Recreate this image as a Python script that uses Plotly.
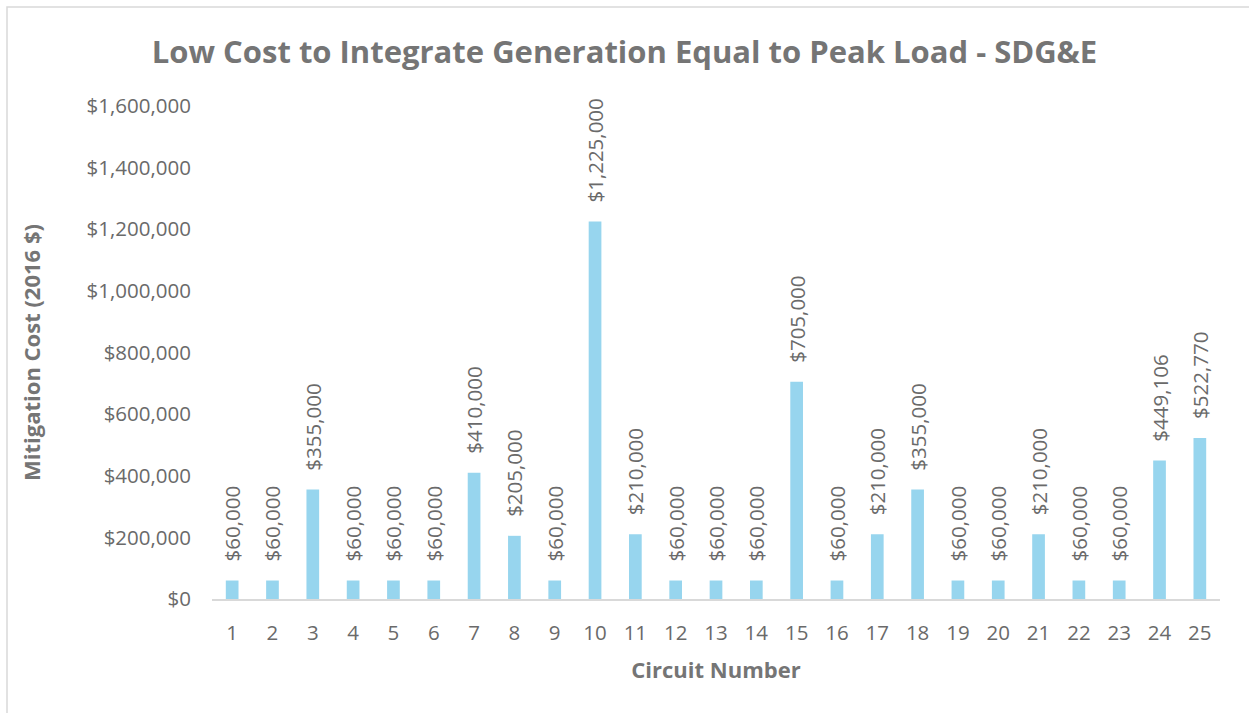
import plotly.graph_objects as go

circuits = [str(i) for i in range(1, 26)]
costs = [60000, 60000, 355000, 60000, 60000, 60000, 410000, 205000, 60000, 1225000,
         210000, 60000, 60000, 60000, 705000, 60000, 210000, 355000, 60000, 60000,
         210000, 60000, 60000, 449106, 522770]
y_ticks = [0, 200000, 400000, 600000, 800000, 1000000, 1200000, 1400000, 1600000]
y_tick_labels = ["$" + format(v, ",") for v in y_ticks]

FONT = "Open Sans"
GRAY = "#6a6a6a"
TITLE_GRAY = "#757575"

fig = go.Figure(go.Bar(
    x=circuits,
    y=costs,
    marker=dict(color="#97D5EE", line=dict(width=0)),
    text=["\u00a0\u00a0\u00a0$" + format(v, ",") for v in costs],
    textposition="outside",
    textangle=-90,
    constraintext="none",
    cliponaxis=False,
    textfont=dict(family=FONT, size=20.5, color=GRAY),
    hoverinfo="skip",
))

fig.update_layout(
    width=1249, height=713,
    margin=dict(l=212, r=29, t=106, b=114, autoexpand=False),
    paper_bgcolor="white", plot_bgcolor="white",
    bargap=0.685,
    showlegend=False,
    title=dict(
        text="<b>Low Cost to Integrate Generation Equal to Peak Load - SDG&amp;E</b>",
        x=0.5, xref="container", xanchor="center",
        y=1 - 52 / 713, yref="container", yanchor="middle",
        font=dict(family=FONT, size=31, color=TITLE_GRAY),
    ),
    font=dict(family=FONT, color=GRAY),
)

fig.update_xaxes(
    type="category",
    showline=True, linecolor="#D9D9D9", linewidth=2,
    ticks="", showgrid=False, automargin=False,
    ticklabelstandoff=14,
    tickfont=dict(family=FONT, size=20.5, color=GRAY),
    title=dict(text="<b>Circuit Number</b>", font=dict(family=FONT, size=22, color=TITLE_GRAY), standoff=18),
)
fig.update_yaxes(
    range=[0, 1600000],
    tickvals=y_ticks, ticktext=y_tick_labels,
    showgrid=False, zeroline=False, showline=False, ticks="", automargin=False,
    ticklabelstandoff=20,
    tickfont=dict(family=FONT, size=20.5, color=GRAY),
    title=dict(text="<b>Mitigation Cost (2016 $)</b>", font=dict(family=FONT, size=22, color=TITLE_GRAY), standoff=39),
)

fig.add_shape(type="rect", xref="paper", yref="paper",
              x0=(7 - 212) / 1008, x1=(1260 - 212) / 1008,
              y0=(599 - 720) / 493, y1=(599 - 7) / 493,
              line=dict(color="#D9D9D9", width=1.5), layer="below")

fig.write_html("out.html", config={"displayModeBar": False},
               post_script="document.body.style.margin='0';")
